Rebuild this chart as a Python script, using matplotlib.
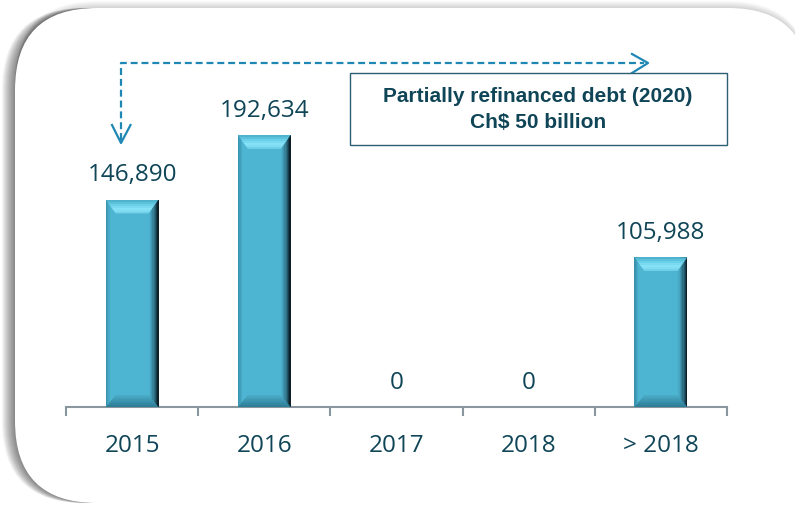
"""Debt maturity bars with a dashed refinancing note
"""

import numpy as np
import matplotlib
matplotlib.use('Agg')
import matplotlib.pyplot as plt
from matplotlib.patches import FancyBboxPatch, Polygon, Rectangle
from matplotlib.colors import to_rgb

categories = ['2015', '2016', '2017', '2018', '> 2018']
values = [146890, 192634, 0, 0, 105988]
value_labels = ['146,890', '192,634', '0', '0', '105,988']
note_lines = ['Partially refinanced debt (2020)', 'Ch$ 50 billion']

TEXT = '#0f4557'
AXIS = '#8a969e'
ARROW = '#1f87b3'
BAR = '#4db4d2'
plt.rcParams['lines.scale_dashes'] = False

W, H = 795, 505
fig = plt.figure(figsize=(W / 100, H / 100), dpi=100)

# background layer, pixel coordinates (y down)
bg = fig.add_axes([0, 0, 1, 1], zorder=0)
bg.set_xlim(0, W)
bg.set_ylim(H, 0)
bg.axis('off')

cx, cy, cw, ch = 15, 8, 795, 495
style = 'round,pad=0,rounding_size=82'
left_clip = Rectangle((0, 0), 300, H, transform=bg.transData)
for k in range(13, 0, -1):
    p = bg.add_patch(FancyBboxPatch((cx - k, cy), cw, ch, boxstyle=style,
                                    fc='black', ec='none', alpha=0.042))
    p.set_clip_path(left_clip)
for k in range(7, 0, -1):
    bg.add_patch(FancyBboxPatch((cx, cy - k), cw, ch, boxstyle=style,
                                fc='black', ec='none', alpha=0.022))
bg.add_patch(FancyBboxPatch((cx, cy), cw, ch, boxstyle=style, fc='white', ec='none'))

# main chart
ax = fig.add_axes([66 / W, 98 / H, 661 / W, 377 / H], zorder=1)
ax.patch.set_alpha(0)
x = np.arange(len(categories))
bars = ax.bar(x, values, width=0.4, color=BAR, zorder=2)
ax.set_xlim(-0.5, len(categories) - 0.5)
ax.set_ylim(0, 377 * 708)

px_x = len(categories) / 661
px_y = 708


def mix(c1, c2, t):
    a, b = np.array(to_rgb(c1)), np.array(to_rgb(c2))
    return tuple(a + (b - a) * t)


# bevel shading on each bar
for rect in bars:
    h = rect.get_height()
    if h <= 0:
        continue
    x0 = rect.get_x()
    x1 = x0 + rect.get_width()
    bx, by = 10 * px_x, 14 * px_y
    n = 8
    for j in range(n):
        t = ((j + 1) / n) ** 1.6
        ax.add_patch(Rectangle((x1 - bx * (n - j) / n, 0), bx / n, h,
                               fc=mix(BAR, '#0c2029', t), ec='none', zorder=3))
    for j in range(3):
        ax.add_patch(Rectangle((x0 + 4 * px_x * j / 3, 0), 4 * px_x / 3, h,
                               fc=mix(BAR, '#2f7f98', 0.6 - 0.2 * j), ec='none', zorder=3))
    top = Polygon([(x0, h), (x1, h), (x1 - bx, h - by), (x0 + bx, h - by)],
                  fc='none', ec='none', zorder=4)
    ax.add_patch(top)
    shades = ['#4fb3cd', '#5cc2dc', '#6acfe8', '#78d9f0', '#84e1f6', '#7fdcf2', '#6fd0e8']
    for j, c in enumerate(shades):
        s = ax.add_patch(Rectangle((x0, h - by * (j + 1) / 7), x1 - x0, by / 7,
                                   fc=c, ec='none', zorder=4))
        s.set_clip_path(top)
    bot = Polygon([(x0, 0), (x1, 0), (x1 - bx, by * 0.85), (x0 + bx, by * 0.85)],
                  fc='none', ec='none', zorder=4)
    ax.add_patch(bot)
    for j in range(6):
        s = ax.add_patch(Rectangle((x0, by * 0.85 * j / 6), x1 - x0, by * 0.85 / 6,
                                   fc=mix('#2f7f98', '#48a9c5', j / 5), ec='none', zorder=4))
        s.set_clip_path(bot)

for xi, v, lab in zip(x, values, value_labels):
    ax.annotate(lab, (xi, v), xytext=(0, 13), textcoords='offset points',
                ha='center', va='baseline', fontsize=17.5, family='Open Sans',
                color=TEXT, zorder=5)

ax.set_xticks(x, categories)
ax.set_xticks(np.arange(len(categories) + 1) - 0.5, minor=True)
ax.tick_params(axis='x', which='major', length=0, pad=19.5, labelsize=17.5,
               labelcolor=TEXT)
ax.tick_params(axis='x', which='minor', length=6.5, width=1.5, color=AXIS)
for lab in ax.get_xticklabels():
    lab.set_family('Open Sans')
ax.set_yticks([])
for side in ['left', 'top', 'right']:
    ax.spines[side].set_visible(False)
ax.spines['bottom'].set_color(AXIS)
ax.spines['bottom'].set_linewidth(1.5)

# dashed elbow arrow and the note box (pixel coordinates)
ax.add_line(plt.Line2D([121, 121, 644], [140, 63, 63], transform=bg.transData,
                       color=ARROW, lw=1.6, dashes=(5, 2.8), clip_on=False, zorder=6))
ax.add_line(plt.Line2D([112, 121, 130.5], [125, 143, 125], transform=bg.transData,
                       color=ARROW, lw=1.6, clip_on=False, zorder=6))
ax.add_line(plt.Line2D([632, 648, 632], [54, 63, 73], transform=bg.transData,
                       color=ARROW, lw=1.6, clip_on=False, zorder=6))
ax.add_patch(Rectangle((350, 73), 377, 72, transform=bg.transData, fc='white',
                       ec='#2c5f72', lw=1, clip_on=False, zorder=6))
for yy, line in zip([97, 123], note_lines):
    ax.text(538, yy, line, transform=bg.transData, ha='center', va='center',
            fontsize=15, fontweight='bold', family='Liberation Sans', color=TEXT,
            zorder=7)

fig.savefig('out.png', dpi=100)
